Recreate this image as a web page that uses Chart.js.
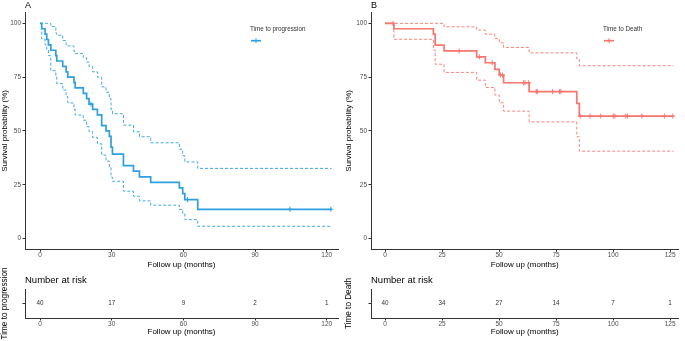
<!DOCTYPE html>
<html>
<head>
<meta charset="utf-8">
<script src="https://cdn.jsdelivr.net/npm/chart.js@4"></script>
<style>
body { margin:0; background:#fff; }
#wrap { position:relative; width:685px; height:341px; overflow:hidden; background:#fff; }
canvas { position:absolute; }
</style>
</head>
<body>
<div id="wrap">
<canvas id="mainA" width="342" height="270" style="left:0;top:0;width:342px;height:270px"></canvas>
<canvas id="riskA" width="342" height="81" style="left:0;top:260px;width:342px;height:81px"></canvas>
<canvas id="mainB" width="343" height="270" style="left:342px;top:0;width:343px;height:270px"></canvas>
<canvas id="riskB" width="343" height="81" style="left:342px;top:260px;width:343px;height:81px"></canvas>
</div>
<script>
// Painel A - tempo até progressão
const tempoA = [0, 0.7, 2.1, 2.8, 3.5, 4.5, 6.6, 7.0, 9.5, 10.9, 11.6, 14.2, 14.7, 18.1, 19.5, 20.5, 22, 24, 25.8, 27.6, 29, 29.7, 30.3, 34.9, 39.1, 41.6, 46.3, 58.3, 59.7, 60.6, 66, 122];
const survA = [100, 97.5, 95, 92.5, 90, 87.5, 85, 82.5, 80, 77.5, 75, 72.5, 70, 67.5, 65, 62.5, 60, 57.5, 52.5, 50, 47.5, 42.5, 39.2, 33.9, 31.3, 28.7, 26.1, 23.5, 20.9, 18.1, 13.6, 13.6];
const supA = [100, 100, 100, 100, 100, 98.5, 95.5, 94.5, 92, 90, 89.5, 87, 86, 84, 82, 80, 77.5, 75, 70.5, 68, 65, 60, 58, 52.7, 49.6, 47.3, 44.5, 41.5, 38.5, 35.6, 32.6, 32.6];
const infA = [100, 92.7, 90, 88, 85, 78, 75, 72, 69, 66, 63, 60, 57.4, 55, 52, 49.7, 47, 44, 38.8, 36, 33, 28.5, 26.6, 22, 19.7, 17.5, 15.5, 13.5, 11.6, 8.8, 5.7, 5.7];
const censA = [21.3, 61.7, 104.6, 121.7];
const ticksXA = [0, 30, 60, 90, 120];
const riscoNA = [40, 17, 9, 2, 1];

// Painel B - tempo até óbito
const tempoB = [0, 3.9, 21.2, 22, 25.9, 40.2, 44, 48.2, 50.1, 52, 63.2, 84.1, 85.2, 126.5];
const survB = [100, 97.5, 95, 89.9, 87.2, 84.4, 81.7, 78.6, 76, 72.4, 68.3, 62.8, 56.9, 56.9];
const supB = [100, 100, 100, 100, 98.4, 96.9, 95, 93, 91, 88.8, 86.3, 83.5, 80.3, 80.3];
const infB = [100, 92.6, 87.6, 81, 77.2, 73.6, 70.2, 66.7, 63.1, 59.2, 54.2, 47.3, 40.6, 40.6];
const censB = [3.5, 32.5, 41.4, 47, 50.6, 51.5, 60.7, 61.4, 63, 66.3, 66.8, 73.5, 76.5, 77.1, 85.6, 89.9, 94.6, 100.1, 100.8, 105.6, 106.3, 112.6, 122.5, 126.2];
const ticksXB = [0, 25, 50, 75, 100, 125];
const riscoNB = [40, 34, 27, 14, 7, 1];

const ticksY = [0, 25, 50, 75, 100];

const FONTE = "'Liberation Sans', Arial, sans-serif";
const AZUL = '#2E9FDF';
const SALMAO = '#F8766D';
const EIXO = '#333333';

function pontos(tempos, valores) {
    return tempos.map((t, i) => ({ x: t, y: valores[i] }));
}

// valor da curva num instante (para as marcas de censura)
function valorEm(tempos, valores, t) {
    let v = valores[0];
    tempos.forEach((tt, i) => { if (tt <= t) v = valores[i]; });
    return v;
}

const legendaPlugin = {
    id: 'legendaKM',
    afterDraw(chart, args, opts) {
        const ctx = chart.ctx;
        ctx.save();
        ctx.font = `6.3px ${FONTE}`;
        ctx.fillStyle = '#333';
        ctx.textBaseline = 'middle';
        ctx.fillText(opts.texto, opts.x, opts.y);
        ctx.strokeStyle = opts.cor;
        ctx.lineWidth = 1.7;
        ctx.beginPath();
        ctx.moveTo(opts.x + 1, opts.y + 11.7);
        ctx.lineTo(opts.x + 11, opts.y + 11.7);
        ctx.stroke();
        ctx.lineWidth = 1;
        ctx.beginPath();
        ctx.moveTo(opts.x + 6, opts.y + 9.2);
        ctx.lineTo(opts.x + 6, opts.y + 14.2);
        ctx.stroke();
        ctx.restore();
    }
};

const numerosPlugin = {
    id: 'numerosRisco',
    afterDatasetsDraw(chart, args, opts) {
        const ctx = chart.ctx;
        const meta = chart.getDatasetMeta(0);
        ctx.save();
        ctx.font = `6.3px ${FONTE}`;
        ctx.fillStyle = '#333';
        ctx.textAlign = 'center';
        ctx.textBaseline = 'middle';
        meta.data.forEach((p, i) => ctx.fillText(String(opts.valores[i]), p.x, p.y));
        ctx.restore();
    }
};

function eixoX(cfg, altura) {
    return {
        type: 'linear', min: cfg.xMin, max: cfg.xMax,
        afterBuildTicks: s => { s.ticks = cfg.ticksX.map(v => ({ value: v })); },
        afterFit: s => { s.height = altura; },
        ticks: { color: '#4D4D4D', padding: 0, maxRotation: 0, font: { family: FONTE, size: 6.5, lineHeight: 1 } },
        grid: { display: true, drawOnChartArea: false, drawTicks: true, tickLength: 2.5, color: EIXO, lineWidth: 1 },
        border: { display: true, color: EIXO, width: 1 },
        title: { display: true, text: 'Follow up (months)', color: '#000', padding: 0, font: { family: FONTE, size: 8 } }
    };
}

function criarPrincipal(id, cfg) {
    return new Chart(document.getElementById(id), {
        type: 'line',
        data: {
            datasets: [
                { data: pontos(cfg.tempos, cfg.sup), stepped: true, borderColor: cfg.cor, borderWidth: 0.9, borderDash: [3, 2], pointRadius: 0, fill: false },
                { data: pontos(cfg.tempos, cfg.inf), stepped: true, borderColor: cfg.cor, borderWidth: 0.9, borderDash: [3, 2], pointRadius: 0, fill: false },
                { data: pontos(cfg.tempos, cfg.surv), stepped: true, borderColor: cfg.cor, borderWidth: 1.7, pointRadius: 0, fill: false },
                { data: cfg.cens.map(t => ({ x: t, y: valorEm(cfg.tempos, cfg.surv, t) })), showLine: false, pointStyle: 'cross', pointRadius: 2.5, borderColor: cfg.cor, borderWidth: 1 }
            ]
        },
        options: {
            responsive: false, animation: false,
            layout: { padding: cfg.padding, autoPadding: false },
            plugins: {
                legend: { display: false },
                tooltip: { enabled: false },
                title: { display: true, text: cfg.letra, align: 'start', fullSize: false, color: '#000', font: { family: FONTE, size: 9, weight: 'normal', lineHeight: 1.2 }, padding: { top: 0, bottom: 1.8 } },
                legendaKM: cfg.legenda
            },
            scales: {
                x: eixoX(cfg, 20.7),
                y: {
                    min: -5, max: 105,
                    afterBuildTicks: s => { s.ticks = ticksY.map(v => ({ value: v })); },
                    afterFit: s => { s.width = cfg.larguraY; },
                    ticks: { color: '#4D4D4D', padding: 1.5, font: { family: FONTE, size: 6.5 } },
                    grid: { display: true, drawOnChartArea: false, drawTicks: true, tickLength: 2.5, color: EIXO, lineWidth: 1 },
                    border: { display: true, color: EIXO, width: 1 },
                    title: { display: true, text: 'Survival probability (%)', color: '#000', padding: 0, font: { family: FONTE, size: 8 } }
                }
            }
        },
        plugins: [legendaPlugin]
    });
}

function criarRisco(id, cfg) {
    return new Chart(document.getElementById(id), {
        type: 'line',
        data: { datasets: [{ data: cfg.ticksX.map(t => ({ x: t, y: 0.5 })), showLine: false, pointRadius: 0 }] },
        options: {
            responsive: false, animation: false,
            layout: { padding: { left: cfg.padding.left, right: cfg.padding.right, top: 0, bottom: 4.5 }, autoPadding: false },
            plugins: {
                legend: { display: false },
                tooltip: { enabled: false },
                title: { display: true, text: 'Number at risk', align: 'start', fullSize: false, color: '#000', font: { family: FONTE, size: 9.5, weight: 'normal', lineHeight: 1.2 }, padding: { top: 14.3, bottom: 3.3 } },
                numerosRisco: { valores: cfg.risco }
            },
            scales: {
                x: eixoX(cfg, 18.5),
                y: {
                    min: 0, max: 1,
                    afterBuildTicks: s => { s.ticks = [{ value: 0.5 }]; },
                    afterFit: s => { s.width = cfg.larguraY; },
                    ticks: { callback: () => '' },
                    grid: { display: true, drawOnChartArea: false, drawTicks: true, tickLength: 2.5, color: EIXO, lineWidth: 1 },
                    border: { display: true, color: EIXO, width: 1 },
                    title: { display: true, text: cfg.rotulo, color: '#000', padding: 0, font: { family: FONTE, size: 8.2 } }
                }
            }
        },
        plugins: [numerosPlugin]
    });
}

const cfgA = {
    tempos: tempoA, surv: survA, sup: supA, inf: infA, cens: censA, cor: AZUL,
    ticksX: ticksXA, risco: riscoNA, xMin: -6.3, xMax: 124.7,
    padding: { left: 0, right: 4, top: 0, bottom: 0 }, larguraY: 25,
    letra: 'A', rotulo: 'Time to progression',
    legenda: { texto: 'Time to progression', x: 250, y: 29, cor: AZUL }
};
const cfgB = {
    tempos: tempoB, surv: survB, sup: supB, inf: infB, cens: censB, cor: SALMAO,
    ticksX: ticksXB, risco: riscoNB, xMin: -6.14, xMax: 128.6,
    padding: { left: 1.5, right: 6.7, top: 0, bottom: 0 }, larguraY: 27.5,
    letra: 'B', rotulo: 'Time to Death',
    legenda: { texto: 'Time to Death', x: 261, y: 29, cor: SALMAO }
};

criarPrincipal('mainA', cfgA);
criarRisco('riskA', cfgA);
criarPrincipal('mainB', cfgB);
criarRisco('riskB', cfgB);
</script>
</body>
</html>
